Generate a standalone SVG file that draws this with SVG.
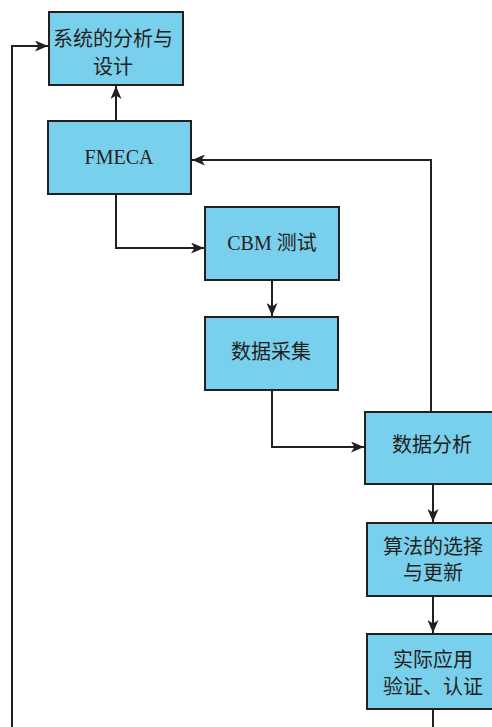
<svg xmlns="http://www.w3.org/2000/svg" width="492" height="727" viewBox="0 0 492 727">
<style>
.box{fill:#79D0EC;stroke:#231F20;stroke-width:2}
.t{font-family:"Liberation Serif","Noto Sans CJK SC",serif;font-size:20px;fill:#231F20;text-anchor:middle}
.c{fill:none;stroke:#231F20;stroke-width:2}
</style>
<defs>
<marker id="a" viewBox="0 0 13 11" refX="13" refY="5.5" markerWidth="13" markerHeight="11" markerUnits="userSpaceOnUse" orient="auto">
<path d="M0,0 L13,5.5 L0,11 L3.5,5.5 Z" fill="#231F20"/>
</marker>
</defs>
<rect width="492" height="727" fill="#fff"/>
<g id="connectors">
<path class="c" d="M12,727 V46 H48" marker-end="url(#a)"/>
<path class="c" d="M116,121 V86" marker-end="url(#a)"/>
<path class="c" d="M116,194 V248 H204" marker-end="url(#a)"/>
<path class="c" d="M272,280 V316" marker-end="url(#a)"/>
<path class="c" d="M272,390 V447 H364" marker-end="url(#a)"/>
<path class="c" d="M431,412 V160 H192" marker-end="url(#a)"/>
<path class="c" d="M433,484 V522" marker-end="url(#a)"/>
<path class="c" d="M433,596 V633" marker-end="url(#a)"/>
<path class="c" d="M433,709 V727"/>
</g>
<g id="n1"><rect class="box" x="49" y="12" width="134" height="73"/><text class="t" x="113" y="46">系统的分析与</text><text class="t" x="113" y="74">设计</text></g>
<g id="n2"><rect class="box" x="48" y="121" width="143" height="73"/><text class="t" x="119" y="164">FMECA</text></g>
<g id="n3"><rect class="box" x="205" y="207" width="134" height="73"/><text class="t" x="272" y="250">CBM 测试</text></g>
<g id="n4"><rect class="box" x="205" y="317" width="133" height="73"/><text class="t" x="271" y="359">数据采集</text></g>
<g id="n5"><rect class="box" x="365" y="412" width="134" height="72"/><text class="t" x="432" y="452">数据分析</text></g>
<g id="n6"><rect class="box" x="367" y="523" width="132" height="73"/><text class="t" x="433" y="554">算法的选择</text><text class="t" x="433" y="580">与更新</text></g>
<g id="n7"><rect class="box" x="367" y="634" width="132" height="75"/><text class="t" x="433" y="667">实际应用</text><text class="t" x="433" y="694">验证、认证</text></g>
</svg>
